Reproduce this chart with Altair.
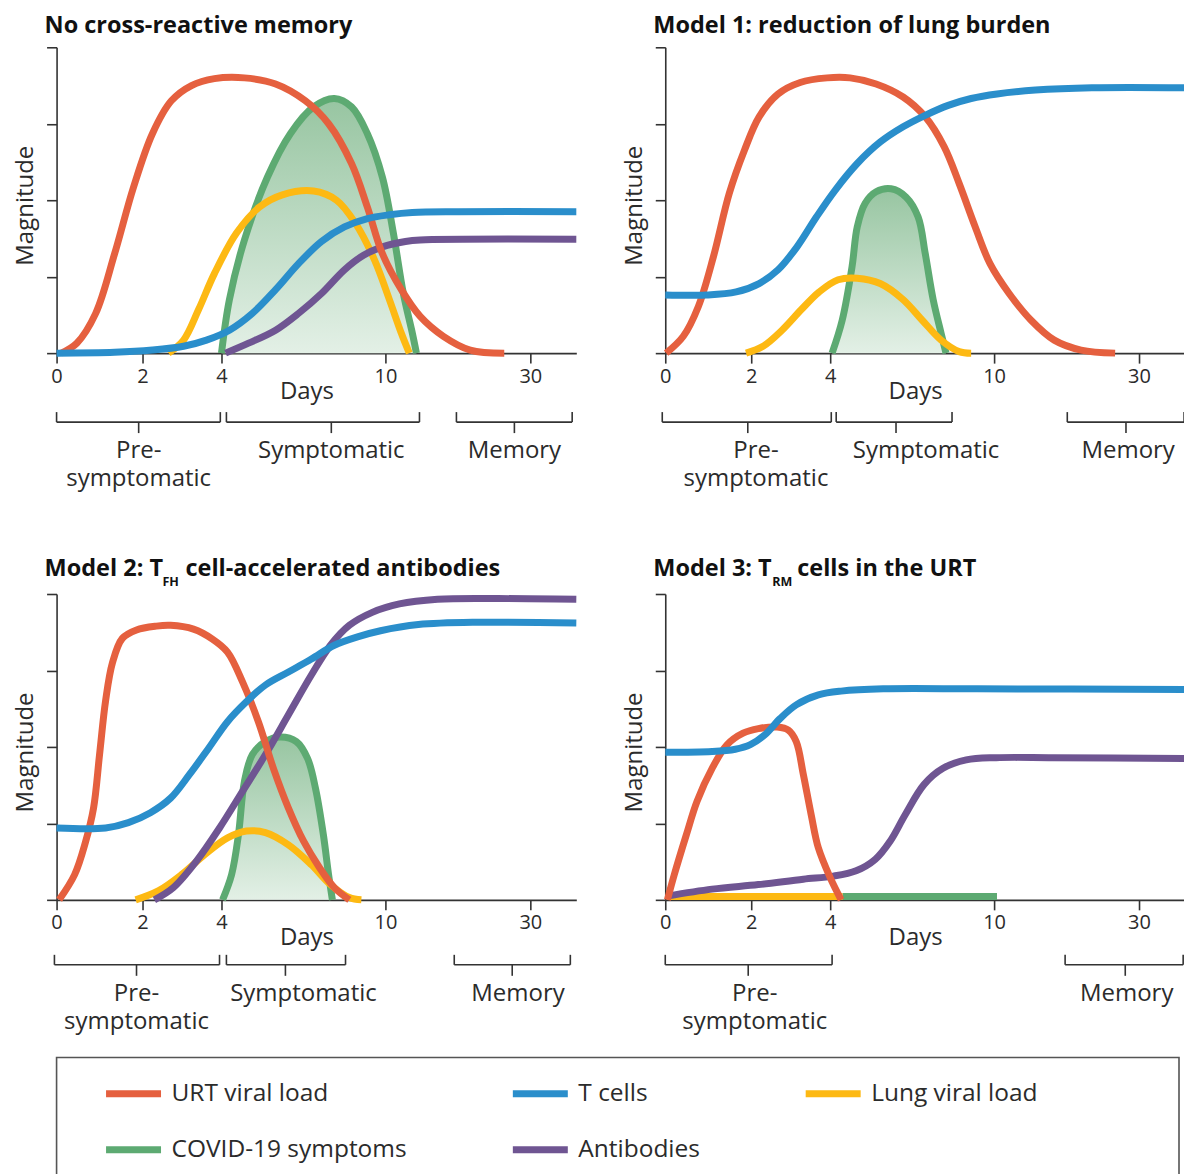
import altair as alt
import pandas as pd

W, H = 520, 306
FONT = "Open Sans"
INK = "#2b2b2b"
AXC = "#333333"

SERIES = ["URT viral load", "T cells", "Lung viral load", "COVID-19 symptoms", "Antibodies"]
COLORS = ["#E5603F", "#2A8ECB", "#FDB913", "#5DAA72", "#6F5592"]

DAY_TICKS = [0, 2, 4, 10, 30]
DAY_DOMAIN = [0, 2, 4, 10, 30, 40]
DAY_RANGE = [0, 86, 165, 329, 474, 520]
MAG_TICKS = [0, 1, 2, 3, 4]

# ---------------- Panel 1: No cross-reactive memory ----------------
P1_URT_DAY = [0.11, 0.47, 0.91, 1.35, 1.79, 2.25, 2.73, 3.24, 3.82, 4.84, 5.98, 7.07, 7.92, 8.76, 9.34, 9.89, 12.2, 14.8, 18.0, 21.7, 26.4]
P1_URT_MAG = [0, 0.13, 0.52, 1.30, 2.17, 2.87, 3.30, 3.50, 3.59, 3.60, 3.52, 3.30, 3.0, 2.48, 1.91, 1.30, 0.83, 0.48, 0.22, 0.04, 0]
P1_TC_DAY = [0, 1.35, 2.25, 3.04, 3.62, 4.29, 5.13, 5.98, 6.82, 7.66, 8.50, 9.34, 10.55, 13.7, 20.1, 40]
P1_TC_MAG = [0, 0.01, 0.04, 0.09, 0.17, 0.30, 0.52, 0.83, 1.17, 1.46, 1.65, 1.76, 1.81, 1.84, 1.85, 1.85]
P1_LUNG_DAY = [2.66, 3.04, 3.42, 3.82, 4.55, 5.39, 6.23, 7.37, 8.21, 8.90, 9.60, 10.55, 12.2, 13.3]
P1_LUNG_MAG = [0, 0.17, 0.57, 1.04, 1.57, 1.91, 2.07, 2.12, 2.0, 1.70, 1.22, 0.70, 0.26, 0]
P1_SYM_DAY = [4.0, 4.29, 4.84, 5.68, 6.52, 7.37, 8.13, 8.76, 9.34, 9.89, 11.1, 12.48, 13.72, 14.28]
P1_SYM_MAG = [0, 0.70, 1.48, 2.30, 2.87, 3.22, 3.33, 3.22, 2.87, 2.30, 1.57, 0.78, 0.26, 0]
P1_AB_DAY = [4.15, 4.99, 5.98, 6.82, 7.66, 8.50, 9.20, 9.89, 12.76, 14.8, 40]
P1_AB_MAG = [0, 0.13, 0.30, 0.52, 0.78, 1.09, 1.28, 1.39, 1.46, 1.48, 1.49]

# ---------------- Panel 2: Model 1 ----------------
P2_URT_DAY = [0.02, 0.42, 0.77, 1.12, 1.49, 1.84, 2.20, 2.68, 3.24, 3.92, 4.73, 5.68, 6.67, 7.48, 8.17, 8.72, 9.31, 9.85, 12.07, 15.1, 18.3, 22.0, 26.7]
P2_URT_MAG = [0, 0.22, 0.61, 1.26, 2.09, 2.65, 3.09, 3.39, 3.54, 3.60, 3.60, 3.52, 3.35, 3.09, 2.70, 2.22, 1.65, 1.17, 0.78, 0.43, 0.17, 0.04, 0]
P2_TC_DAY = [0, 0.95, 1.65, 2.20, 2.68, 3.16, 3.65, 4.18, 4.99, 5.83, 6.67, 7.48, 8.32, 9.16, 10.41, 15.7, 23.5, 40]
P2_TC_MAG = [0.76, 0.76, 0.80, 0.91, 1.09, 1.39, 1.78, 2.13, 2.48, 2.76, 2.96, 3.11, 3.24, 3.33, 3.39, 3.44, 3.47, 3.47]
P2_SYM_DAY = [4.07, 4.44, 4.80, 4.99, 5.28, 5.68, 6.23, 6.78, 7.22, 7.48, 7.77, 8.06, 8.24]
P2_SYM_MAG = [0, 0.43, 1.13, 1.65, 1.96, 2.11, 2.15, 2.04, 1.78, 1.30, 0.70, 0.26, 0]
P2_LUNG_DAY = [1.88, 2.30, 2.78, 3.27, 3.72, 4.29, 4.99, 5.83, 6.67, 7.37, 8.06, 8.72, 9.16]
P2_LUNG_MAG = [0, 0.09, 0.30, 0.57, 0.80, 0.96, 0.98, 0.91, 0.70, 0.43, 0.17, 0.02, 0]

# ---------------- Panel 3: Model 2 ----------------
P3_URT_DAY = [0.06, 0.42, 0.67, 0.86, 1.0, 1.14, 1.30, 1.53, 1.86, 2.35, 2.71, 3.29, 3.77, 4.22, 4.77, 5.35, 5.90, 6.45, 7.00, 7.59, 8.13, 8.68]
P3_URT_MAG = [0, 0.33, 0.75, 1.2, 1.9, 2.6, 3.1, 3.42, 3.53, 3.58, 3.59, 3.54, 3.41, 3.24, 2.85, 2.33, 1.72, 1.20, 0.77, 0.42, 0.16, 0]
P3_TC_DAY = [0, 1.14, 1.67, 2.20, 2.71, 3.19, 3.67, 4.22, 4.91, 5.61, 6.45, 7.29, 8.13, 8.98, 9.82, 14.55, 22.4, 40]
P3_TC_MAG = [0.94, 0.94, 1.01, 1.14, 1.33, 1.64, 1.98, 2.33, 2.59, 2.81, 2.98, 3.15, 3.33, 3.44, 3.52, 3.60, 3.63, 3.62]
P3_AB_DAY = [2.30, 2.78, 3.37, 3.95, 4.77, 5.61, 6.45, 7.29, 7.99, 8.68, 9.52, 11.93, 17.2, 25.2, 40]
P3_AB_MAG = [0, 0.16, 0.51, 0.94, 1.42, 1.90, 2.42, 2.94, 3.33, 3.59, 3.76, 3.87, 3.93, 3.94, 3.93]
P3_SYM_DAY = [4.04, 4.37, 4.62, 4.84, 5.13, 5.61, 6.16, 6.74, 7.15, 7.44, 7.73, 7.92, 8.06]
P3_SYM_MAG = [0, 0.33, 0.85, 1.55, 1.90, 2.07, 2.13, 2.07, 1.85, 1.46, 0.85, 0.33, 0]
P3_LUNG_DAY = [1.84, 2.41, 2.99, 3.57, 4.22, 4.91, 5.61, 6.45, 7.29, 7.99, 8.68, 9.12]
P3_LUNG_MAG = [0, 0.12, 0.33, 0.59, 0.81, 0.90, 0.88, 0.72, 0.46, 0.20, 0.03, 0]

# ---------------- Panel 4: Model 3 ----------------
P4_TC_DAY = [0, 1.09, 1.63, 1.98, 2.35, 2.73, 3.14, 3.70, 4.40, 5.94, 9.38, 40]
P4_TC_MAG = [1.93, 1.94, 1.97, 2.03, 2.16, 2.37, 2.55, 2.68, 2.73, 2.76, 2.76, 2.75]
P4_URT_DAY = [0.05, 0.21, 0.49, 0.74, 1.09, 1.44, 1.81, 2.18, 2.66, 2.94, 3.14, 3.32, 3.52, 3.70, 4.0, 4.40]
P4_URT_MAG = [0, 0.33, 0.85, 1.29, 1.72, 2.03, 2.18, 2.24, 2.26, 2.22, 2.07, 1.64, 1.11, 0.68, 0.29, 0]
P4_AB_DAY = [0.05, 1.09, 2.18, 3.32, 4.11, 4.95, 5.65, 6.20, 6.74, 7.44, 8.13, 8.98, 10.28, 18.1, 40]
P4_AB_MAG = [0.05, 0.14, 0.20, 0.27, 0.31, 0.38, 0.53, 0.77, 1.11, 1.51, 1.72, 1.83, 1.86, 1.86, 1.85]
P4_LUNG_DAY = [0.05, 4.45]
P4_LUNG_MAG = [0.045, 0.045]
P4_SYM_DAY = [4.45, 10.4]
P4_SYM_MAG = [0.045, 0.045]

# ---------------- phase brackets ----------------
P1_PH_NAME = ["Pre-\nsymptomatic", "Symptomatic", "Memory"]
P1_PH_START = [0, 4.18, 19.8]
P1_PH_END = [3.97, 14.7, 39.1]
P1_PH_TICK = [1.91, 8.02, 27.8]
P1_PH_LABEL = [1.91, 8.02, 27.8]

P2_PH_NAME = ["Pre-\nsymptomatic", "Symptomatic", "Memory"]
P2_PH_START = [-0.07, 4.22, 20.1]
P2_PH_END = [4.04, 8.46, 39.8]
P2_PH_TICK = [1.92, 6.41, 28.2]
P2_PH_LABEL = [2.12, 7.51, 28.5]

P3_PH_NAME = ["Pre-\nsymptomatic", "Symptomatic", "Memory"]
P3_PH_START = [-0.05, 4.18, 19.5]
P3_PH_END = [3.95, 8.54, 38.7]
P3_PH_TICK = [1.86, 6.34, 27.5]
P3_PH_LABEL = [1.86, 7.0, 28.3]

P4_PH_NAME = ["Pre-\nsymptomatic", "Memory"]
P4_PH_START = [0, 19.8]
P4_PH_END = [4.07, 39.6]
P4_PH_TICK = [1.93, 28.1]
P4_PH_LABEL = [2.09, 28.3]

Z_ORDER = ["COVID-19 symptoms", "Lung viral load", "Antibodies", "URT viral load", "T cells"]

XSCALE = alt.Scale(domain=DAY_DOMAIN, range=DAY_RANGE, nice=False, zero=False)
YSCALE = alt.Scale(domain=[0, 4], nice=False, zero=False)
CSCALE = alt.Scale(domain=SERIES, range=COLORS)

XAXIS = alt.Axis(values=DAY_TICKS, format="d", grid=False, tickSize=10, tickWidth=1.6,
                 tickColor=AXC, domainColor=AXC, domainWidth=1.6, labelFont=FONT,
                 labelFontSize=20, labelColor=INK, labelPadding=3, labelFlush=False,
                 labelOverlap=False, title="Days", titleFont=FONT, titleFontSize=24,
                 titleFontWeight="normal", titleColor=INK, titleX=250, titleY=45,
                 titleBaseline="alphabetic", titleAlign="center")
YAXIS = alt.Axis(values=MAG_TICKS, labels=False, grid=False, tickSize=10, tickWidth=1.6,
                 tickColor=AXC, domainColor=AXC, domainWidth=1.6, title="Magnitude",
                 titleFont=FONT, titleFontSize=24, titleFontWeight="normal", titleColor=INK,
                 titleAngle=270, titleX=-24, titleY=H / 2 + 5, titleAlign="center",
                 titleBaseline="alphabetic")
LEGEND = alt.Legend(orient="none", legendX=46, legendY=1016, direction="horizontal",
                    columns=3, columnPadding=91, rowPadding=11, padding=0,
                    symbolType="stroke", symbolSize=3025, symbolStrokeWidth=7,
                    labelFont=FONT, labelFontSize=24.5, labelColor=INK,
                    labelOffset=7, labelLimit=0, title=None)
GRAD = alt.Gradient(gradient="linear", x1=0, x2=0, y1=0, y2=1,
                    stops=[alt.GradientStop(color="#97C5A1", offset=0),
                           alt.GradientStop(color="#E3F0E6", offset=1)])
CURVE = "catmull-rom"


def curves_df(curves):
    rows = []
    for name, (days, mags) in curves.items():
        for d, m in zip(days, mags):
            rows.append({"series": name, "day": d, "mag": m})
    return pd.DataFrame(rows)


def panel(curves, names, starts, ends, ticks, labels, titles, shift, area=True):
    df = curves_df(curves)
    base = alt.Chart(df)
    x = alt.X("day:Q", scale=XSCALE, axis=XAXIS)
    y = alt.Y("mag:Q", scale=YSCALE, axis=YAXIS)
    layers = []
    if area and "COVID-19 symptoms" in curves:
        layers.append(base.transform_filter(alt.datum.series == "COVID-19 symptoms")
                      .mark_area(interpolate=CURVE, color=GRAD).encode(x=x, y=y))
    for s in Z_ORDER:
        if s in curves:
            layers.append(base.transform_filter(alt.datum.series == s)
                          .mark_line(interpolate=CURVE, strokeWidth=7, strokeJoin="round")
                          .encode(x=x, y=y, color=alt.Color("series:N", scale=CSCALE, legend=LEGEND)))
    ph = pd.DataFrame({"name": names, "start": starts, "end": ends, "tick": ticks, "label": labels})
    pb = alt.Chart(ph)
    yb_top = H + 59 + shift
    yb_h = H + 69 + shift
    yb_t = H + 80 + shift
    rule = dict(color=AXC, strokeWidth=1.6)
    layers.append(pb.mark_rule(**rule).encode(
        x=alt.X("start:Q", scale=XSCALE, axis=XAXIS), x2="end:Q", y=alt.value(yb_h)))
    layers.append(pb.mark_rule(**rule).encode(
        x=alt.X("start:Q", scale=XSCALE, axis=XAXIS), y=alt.value(yb_top), y2=alt.value(yb_h)))
    layers.append(pb.mark_rule(**rule).encode(
        x=alt.X("end:Q", scale=XSCALE, axis=XAXIS), y=alt.value(yb_top), y2=alt.value(yb_h)))
    layers.append(pb.mark_rule(**rule).encode(
        x=alt.X("tick:Q", scale=XSCALE, axis=XAXIS), y=alt.value(yb_h), y2=alt.value(yb_t)))
    layers.append(pb.mark_text(font=FONT, fontSize=24, color=INK, align="center",
                               baseline="alphabetic", lineBreak="\n", lineHeight=28).encode(
        x=alt.X("label:Q", scale=XSCALE, axis=XAXIS), y=alt.value(H + 105 + shift), text="name:N"))
    one = alt.Chart(pd.DataFrame({"k": [0]}))
    for (txt, px, py, size) in titles:
        layers.append(one.mark_text(text=txt, font=FONT, fontSize=size, fontWeight="bold",
                                    color="#111111", align="left", baseline="alphabetic")
                      .encode(x=alt.value(px), y=alt.value(py)))
    return alt.layer(*layers).properties(width=W, height=H)


p1 = panel({"URT viral load": (P1_URT_DAY, P1_URT_MAG), "T cells": (P1_TC_DAY, P1_TC_MAG),
            "Lung viral load": (P1_LUNG_DAY, P1_LUNG_MAG), "COVID-19 symptoms": (P1_SYM_DAY, P1_SYM_MAG),
            "Antibodies": (P1_AB_DAY, P1_AB_MAG)},
           P1_PH_NAME, P1_PH_START, P1_PH_END, P1_PH_TICK, P1_PH_LABEL,
           [("No cross-reactive memory", -12, -14, 23.5)], 0)
p2 = panel({"URT viral load": (P2_URT_DAY, P2_URT_MAG), "T cells": (P2_TC_DAY, P2_TC_MAG),
            "Lung viral load": (P2_LUNG_DAY, P2_LUNG_MAG), "COVID-19 symptoms": (P2_SYM_DAY, P2_SYM_MAG)},
           P2_PH_NAME, P2_PH_START, P2_PH_END, P2_PH_TICK, P2_PH_LABEL,
           [("Model 1: reduction of lung burden", -12, -14, 23.5)], 0)
p3 = panel({"URT viral load": (P3_URT_DAY, P3_URT_MAG), "T cells": (P3_TC_DAY, P3_TC_MAG),
            "Lung viral load": (P3_LUNG_DAY, P3_LUNG_MAG), "COVID-19 symptoms": (P3_SYM_DAY, P3_SYM_MAG),
            "Antibodies": (P3_AB_DAY, P3_AB_MAG)},
           P3_PH_NAME, P3_PH_START, P3_PH_END, P3_PH_TICK, P3_PH_LABEL,
           [("Model 2: T", -12, -18, 23.5), ("FH", 106, -8, 12.5),
            ("cell-accelerated antibodies", 129, -18, 23.5)], -4)
p4 = panel({"URT viral load": (P4_URT_DAY, P4_URT_MAG), "T cells": (P4_TC_DAY, P4_TC_MAG),
            "Lung viral load": (P4_LUNG_DAY, P4_LUNG_MAG), "COVID-19 symptoms": (P4_SYM_DAY, P4_SYM_MAG),
            "Antibodies": (P4_AB_DAY, P4_AB_MAG)},
           P4_PH_NAME, P4_PH_START, P4_PH_END, P4_PH_TICK, P4_PH_LABEL,
           [("Model 3: T", -12, -18, 23.5), ("RM", 107, -8, 12.5),
            ("cells in the URT", 132, -18, 23.5)], -4, area=False)

box = alt.Chart(pd.DataFrame({"v": [0]})).mark_point(opacity=0).encode(
    x=alt.value(0), y=alt.value(0)
).properties(width=1123, height=140, view=alt.ViewBackground(stroke="#555555", strokeWidth=1.6))

row1 = alt.hconcat(p1, p2, spacing=41)
row2 = alt.hconcat(p3, p4, spacing=41)
grid = alt.vconcat(row1, row2, spacing=64)
chart = alt.vconcat(grid, box, spacing=18.8).properties(
    padding={"left": 4.6, "top": 5, "right": -5, "bottom": 0}
).configure(font=FONT).configure_view(stroke="transparent")

chart.save("out.html", embed_options={"renderer": "svg", "actions": False})
